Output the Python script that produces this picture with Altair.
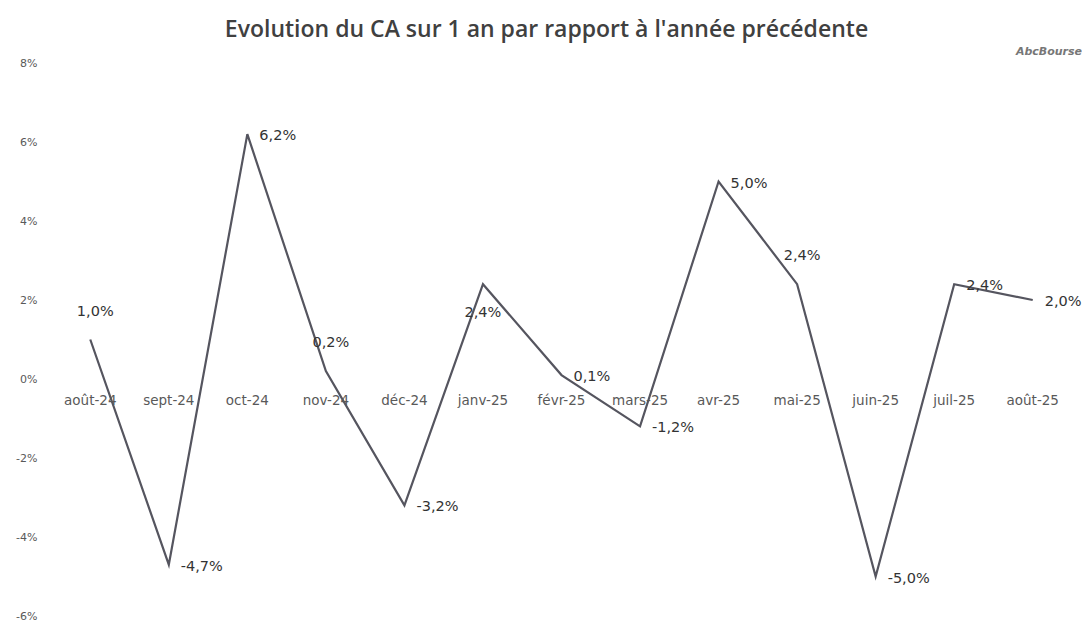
import altair as alt
import pandas as pd

months = ["août-24", "sept-24", "oct-24", "nov-24", "déc-24", "janv-25", "févr-25",
          "mars-25", "avr-25", "mai-25", "juin-25", "juil-25", "août-25"]
values = [1.0, -4.7, 6.2, 0.2, -3.2, 2.4, 0.1, -1.2, 5.0, 2.4, -5.0, 2.4, 2.0]
placement = ["above", "right", "right", "above", "right", "below", "right",
             "right", "right", "above", "right", "right", "right"]

df = pd.DataFrame({
    "mois": months,
    "val": values,
    "lab": [f"{v:.1f}".replace(".", ",") + "%" for v in values],
    "pos": placement,
    "zero": [0.0] * len(months),
})

W, H = 1021, 553
x = alt.X("mois:N", sort=months, scale=alt.Scale(type="point", padding=0.5),
          axis=None)
yscale = alt.Scale(domain=[-6, 8], nice=False)

base = alt.Chart(df)

line = base.mark_line(color="#55555f", strokeWidth=2.2).encode(
    x=x,
    y=alt.Y("val:Q", scale=yscale,
            axis=alt.Axis(values=[-6, -4, -2, 0, 2, 4, 6, 8],
                          labelExpr="datum.value + '%'",
                          grid=False, domain=False, ticks=False,
                          labelPadding=14, labelFontSize=11,
                          labelColor="#595959", labelFont="DejaVu Sans",
                          title=None)),
)

xlabels = base.mark_text(font="DejaVu Sans", fontSize=13.5, color="#595959",
                         dy=22, align="center").encode(
    x=x, y=alt.Y("zero:Q", scale=yscale), text="mois:N")

lab_right = base.transform_filter(alt.datum.pos == "right").mark_text(
    font="DejaVu Sans", fontSize=14.5, color="#333333", align="left", dx=12, dy=2
).encode(x=x, y=alt.Y("val:Q", scale=yscale), text="lab:N")

lab_above = base.transform_filter(alt.datum.pos == "above").mark_text(
    font="DejaVu Sans", fontSize=14.5, color="#333333", align="center", dx=5, dy=-28
).encode(x=x, y=alt.Y("val:Q", scale=yscale), text="lab:N")

lab_below = base.transform_filter(alt.datum.pos == "below").mark_text(
    font="DejaVu Sans", fontSize=14.5, color="#333333", align="center", dx=0, dy=29
).encode(x=x, y=alt.Y("val:Q", scale=yscale), text="lab:N")

logo = alt.Chart(pd.DataFrame({"t": ["AbcBourse"]})).mark_text(
    font="DejaVu Sans", fontSize=11, fontWeight="bold", fontStyle="italic",
    color="#777777", align="right"
).encode(x=alt.value(W + 10), y=alt.value(-11), text="t:N")

chart = alt.layer(line, xlabels, lab_right, lab_above, lab_below, logo).properties(
    width=W, height=H,
    title=alt.TitleParams("Evolution du CA sur 1 an par rapport à l'année précédente",
                          font="Open Sans", fontSize=23, fontWeight=600,
                          color="#404040", anchor="middle", dx=-15, offset=4),
    autosize=alt.AutoSizeParams(type="none"),
    padding={"left": 43, "top": 55, "right": 10, "bottom": 10},
).configure(background="white").configure_view(strokeWidth=0, stroke="transparent")

chart.save("out.html", embed_options={"renderer": "svg", "actions": False})
